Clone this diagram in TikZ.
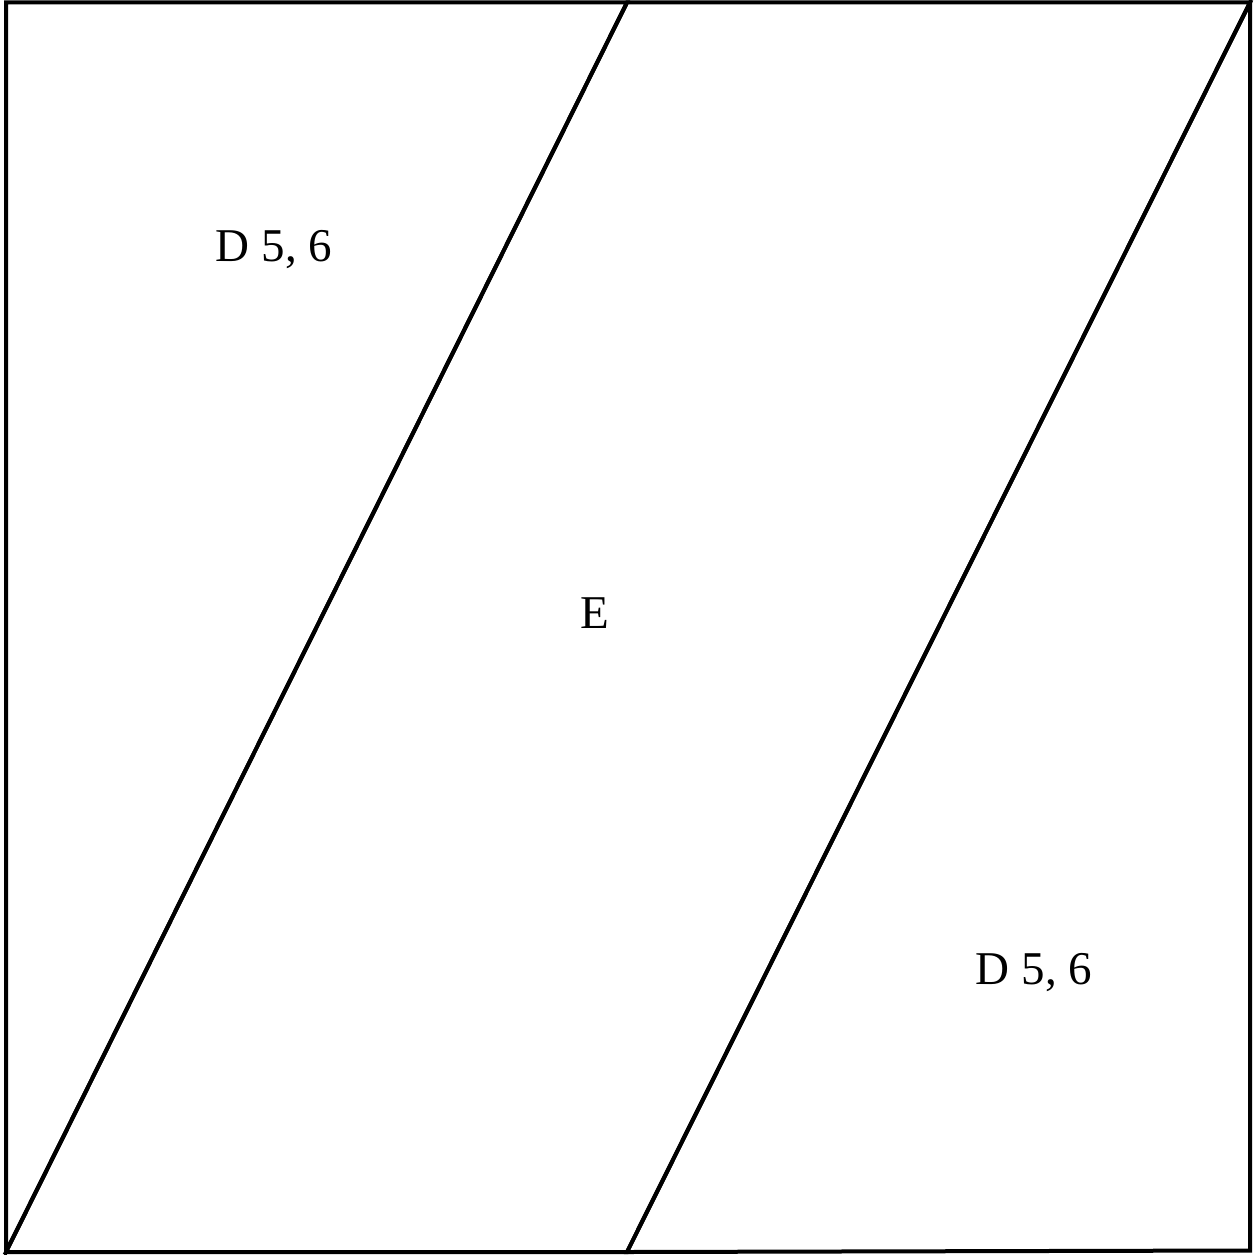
\documentclass[tikz,border=0pt]{standalone}
\usepackage{fontspec}
\setmainfont{Liberation Serif}
\begin{document}
\begin{tikzpicture}[x=1pt,y=-1pt,
  edge/.style={line width=4pt,line join=miter},
  lbl/.style={font=\fontsize{47}{52}\selectfont,anchor=base,inner sep=0pt}]
\useasboundingbox (0,0) rectangle (1254,1255);
\coordinate (tl) at (6,2.5);
\coordinate (tm) at (627,2.5);
\coordinate (tr) at (1250,2.5);
\coordinate (bl) at (6,1252);
\coordinate (bm) at (627,1252);
\coordinate (br) at (1250,1250.5);
\draw[edge] (bl) -- (tl) -- (tm) -- cycle;
\draw[edge] (bl) -- (tm) -- (tr) -- (bm) -- cycle;
\draw[edge] (bm) -- (tr) -- (br) -- cycle;
\node[lbl] (d1) at (274,261) {D 5, 6};
\node[lbl] (e) at (595,628) {E};
\node[lbl] (d2) at (1034,984) {D 5, 6};
\end{tikzpicture}
\end{document}
